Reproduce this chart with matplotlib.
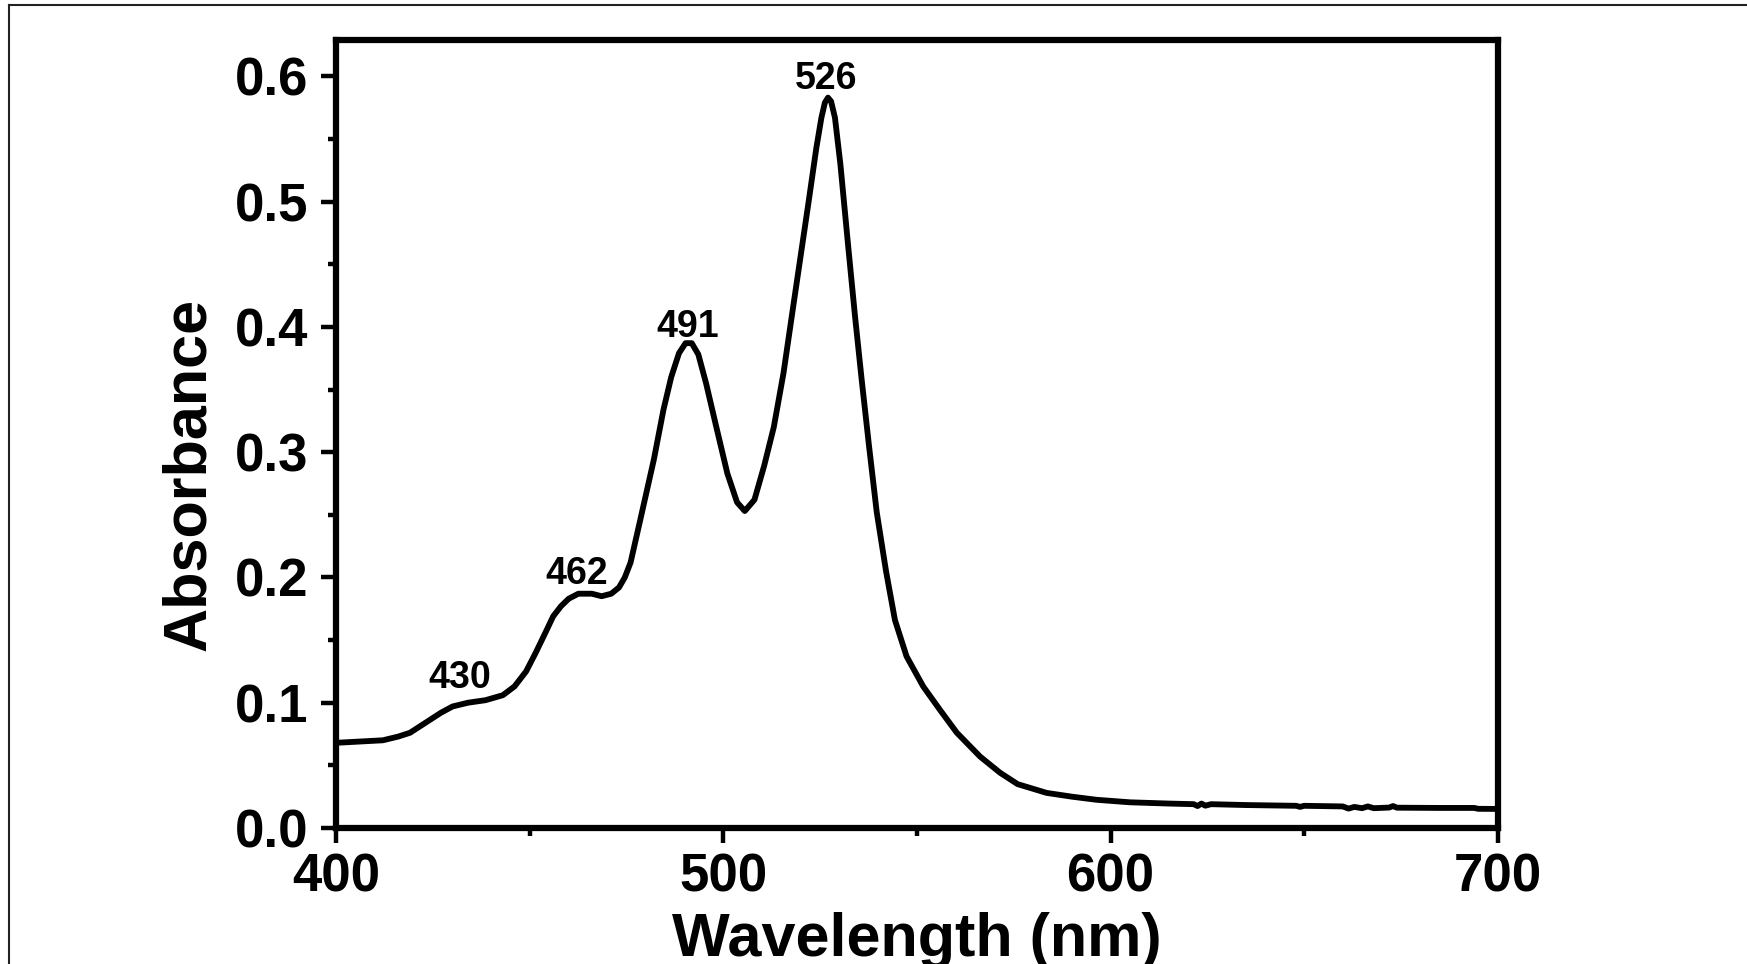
import numpy as np
import matplotlib
matplotlib.use('Agg')
import matplotlib.pyplot as plt
from matplotlib.ticker import MultipleLocator
from matplotlib.lines import Line2D

plt.rcParams['font.family'] = ['Liberation Sans', 'DejaVu Sans']
plt.rcParams['font.weight'] = 'bold'

# absorption spectrum
wavelength = [400, 406, 412, 416, 419, 423, 427, 430, 434, 438.5, 443, 446, 449, 451.5,
              454, 456, 458, 460, 462.5, 466, 468.5, 471, 473, 474.5, 476, 478.5, 482,
              484.5, 486.5, 488.5, 490.2, 491.8, 493.5, 495.5, 498, 501, 503.5, 505.5,
              508, 510.5, 513, 515.5, 518, 520, 522, 524, 525.3, 526.2, 527, 527.8,
              528.8, 530.2, 532.2, 534, 535.7, 537.6, 539.6, 542, 544.3, 547.3, 551.6,
              556, 560.3, 566.3, 571.5, 576, 583.5, 590, 596.4, 605, 615, 621.5, 622.5,
              623.5, 624.5, 626, 635, 648, 649, 650, 660, 661.5, 663, 665, 666.5, 668,
              672, 673, 674, 685, 694, 695, 700]
absorbance = [0.068, 0.069, 0.070, 0.073, 0.076, 0.084, 0.092, 0.097, 0.100, 0.102,
              0.106, 0.113, 0.125, 0.140, 0.156, 0.169, 0.177, 0.183, 0.187, 0.187,
              0.185, 0.187, 0.192, 0.200, 0.212, 0.246, 0.294, 0.334, 0.360, 0.379,
              0.387, 0.387, 0.378, 0.355, 0.322, 0.283, 0.260, 0.253, 0.262, 0.289,
              0.320, 0.363, 0.416, 0.458, 0.500, 0.543, 0.567, 0.579, 0.583, 0.580,
              0.567, 0.530, 0.465, 0.408, 0.358, 0.305, 0.252, 0.205, 0.166, 0.137,
              0.113, 0.094, 0.076, 0.057, 0.044, 0.035, 0.028, 0.025, 0.0225, 0.0205,
              0.0195, 0.019, 0.0175, 0.0195, 0.0178, 0.019, 0.0183, 0.0177, 0.0168,
              0.0177, 0.0172, 0.0155, 0.0168, 0.0158, 0.0172, 0.0158, 0.0163, 0.0175,
              0.0162, 0.0160, 0.0160, 0.0153, 0.0152]

peak_labels = ['430', '462', '491', '526']
peak_x = [431.8, 462.1, 490.7, 526.6]
peak_y = [0.1115, 0.195, 0.392, 0.590]

fig = plt.figure(figsize=(17.47, 9.64), dpi=100)
ax = fig.add_axes([0.1926, 0.1411, 0.6646, 0.8174])

ax.plot(wavelength, absorbance, color='black', lw=4.2,
        solid_joinstyle='round', solid_capstyle='round')

for lab, px, py in zip(peak_labels, peak_x, peak_y):
    ax.text(px, py, lab, ha='center', va='baseline', fontsize=27, fontweight='bold')

ax.set_xlim(400, 700)
ax.set_ylim(0.0, 0.629)
ax.xaxis.set_major_locator(MultipleLocator(100))
ax.xaxis.set_minor_locator(MultipleLocator(50))
ax.yaxis.set_major_locator(MultipleLocator(0.1))
ax.yaxis.set_minor_locator(MultipleLocator(0.05))
ax.yaxis.set_major_formatter(plt.FuncFormatter(lambda v, p: '%.1f' % v))

for s in ax.spines.values():
    s.set_linewidth(4.5)
ax.tick_params(which='both', direction='out', width=3.2, top=False, right=False)
ax.tick_params(which='major', length=11, labelsize=38)
ax.tick_params(axis='x', which='major', pad=7)
ax.tick_params(axis='y', which='major', pad=9)
ax.tick_params(which='minor', length=6)

ax.set_xlabel('Wavelength (nm)', fontsize=44, fontweight='bold', va='baseline')
ax.xaxis.set_label_coords(0.5, -0.163)
ax.set_ylabel('Absorbance', fontsize=44, fontweight='bold', va='baseline')
ax.yaxis.set_label_coords(-0.1133, 0.449)

# thin frame of the cropped picture (top and left edges)
W, H = 1747.0, 964.0
fig.add_artist(Line2D([9 / W, 1.0], [1 - 5 / H, 1 - 5 / H], color='#222222', lw=1.5,
                      transform=fig.transFigure))
fig.add_artist(Line2D([9 / W, 9 / W], [1 - 5 / H, 0.0], color='#222222', lw=1.5,
                      transform=fig.transFigure))

fig.savefig('out.png', dpi=100, facecolor='white')
